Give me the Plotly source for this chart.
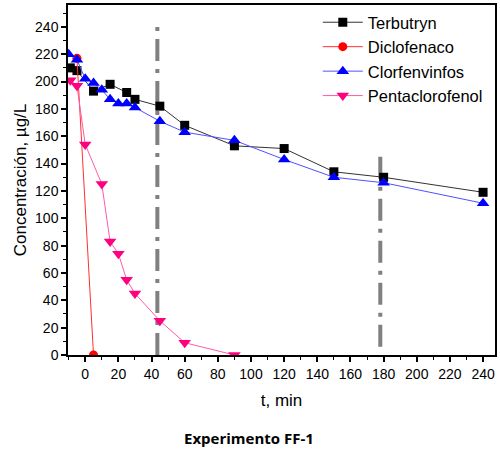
import plotly.graph_objects as go

# Data
terb_t = [-9, -5, 5, 15, 25, 30, 45, 60, 90, 120, 150, 180, 240]
terb_c = [210, 208, 193, 198, 192, 187, 182, 168, 153, 151, 134, 130, 119]

diclo_t = [-5, 5]
diclo_c = [217, 0]

clor_t = [-10, -5, 0, 5, 10, 15, 20, 25, 30, 45, 60, 90, 120, 150, 180, 240]
clor_c = [220, 216, 202, 199, 194, 187, 184, 184, 181, 171, 163, 157, 143, 130, 126, 111]

penta_t = [-9, -5, 0, 10, 15, 20, 25, 30, 45, 60, 90]
penta_c = [201, 197, 154, 125, 83, 74, 55, 45, 25, 9, 0]

# Reference time lines (dash-dot guides)
guide_t = [43.5, 178]
guide_top = [244, 149]
guide_bottom = [0, 6]

x_ticks = list(range(0, 241, 20))
y_ticks = list(range(0, 241, 20))

font_main = "Liberation Sans, Arial, sans-serif"

fig = go.Figure()

for t, top, bot in zip(guide_t, guide_top, guide_bottom):
    fig.add_trace(go.Scatter(
        x=[t, t], y=[bot, top], mode="lines", showlegend=False,
        line=dict(color="#808080", width=4, dash="22px,8px,4px,8px"),
        hoverinfo="skip"))

fig.add_trace(go.Scatter(
    x=terb_t, y=terb_c, name="Terbutryn", mode="lines+markers",
    line=dict(color="#333333", width=1),
    marker=dict(symbol="square", size=9, color="black")))
fig.add_trace(go.Scatter(
    x=diclo_t, y=diclo_c, name="Diclofenaco", mode="lines+markers",
    line=dict(color="#ff3030", width=1),
    marker=dict(symbol="circle", size=9, color="#ff0000")))
fig.add_trace(go.Scatter(
    x=clor_t, y=clor_c, name="Clorfenvinfos", mode="lines+markers",
    line=dict(color="#5050ff", width=1),
    marker=dict(symbol="triangle-up", size=11, color="#0000ff")))
fig.add_trace(go.Scatter(
    x=penta_t, y=penta_c, name="Pentaclorofenol", mode="lines+markers",
    line=dict(color="#ff5aa8", width=1),
    marker=dict(symbol="triangle-down", size=11, color="#ff0080")))

axis_common = dict(
    showline=True, linecolor="black", linewidth=1.5, mirror=True,
    showgrid=False, zeroline=False, ticks="outside", ticklen=5,
    tickwidth=1.5, tickcolor="black",
    tickfont=dict(family=font_main, size=14, color="black"),
)

fig.update_layout(
    width=500, height=452,
    paper_bgcolor="white", plot_bgcolor="white",
    margin=dict(l=68, r=3, t=5, b=97),
    font=dict(family=font_main, color="black"),
    xaxis=dict(
        range=[-10.4, 247.2], tickvals=x_ticks,
        minor=dict(ticks="outside", ticklen=3, dtick=10, tick0=0,
                   tickcolor="black", tickwidth=1.2),
        title=dict(text="t, min", font=dict(family=font_main, size=17),
                   standoff=14),
        **axis_common),
    yaxis=dict(
        range=[0, 256], tickvals=y_ticks,
        minor=dict(ticks="outside", ticklen=3, dtick=10, tick0=0,
                   tickcolor="black", tickwidth=1.2),
        title=dict(text="Concentración, µg/L",
                   font=dict(family=font_main, size=17), standoff=4),
        **axis_common),
    legend=dict(
        x=0.585, y=1.0, xanchor="left", yanchor="top",
        bgcolor="rgba(0,0,0,0)", borderwidth=0,
        font=dict(family=font_main, size=16.5, color="black"),
        itemwidth=40, tracegroupgap=0),
    annotations=[dict(
        text="<b>Experimento FF-1</b>", xref="paper", yref="paper",
        x=(250 - 68) / (500 - 68 - 3), y=-(438 - 355) / (452 - 5 - 97),
        xanchor="center", yanchor="middle", showarrow=False,
        font=dict(family="Open Sans, sans-serif", size=15, color="black"))],
)

fig.write_html("out.html", config={"displayModeBar": False},
               post_script="document.body.style.margin='0';")
